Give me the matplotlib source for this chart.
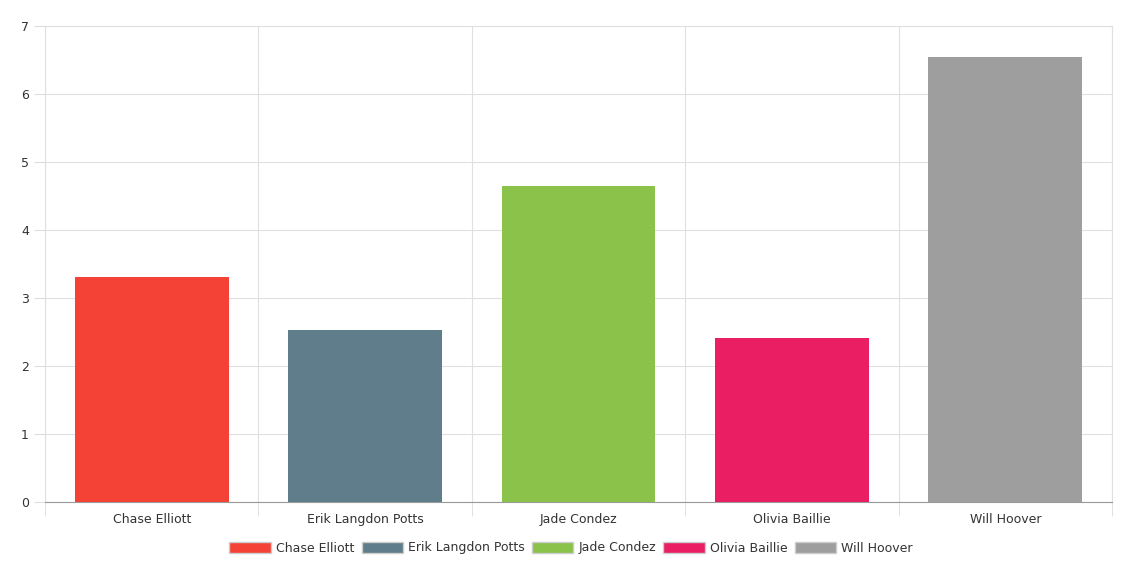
import matplotlib
matplotlib.use("Agg")
import matplotlib.pyplot as plt
from matplotlib.patches import Patch

categories = ["Chase Elliott", "Erik Langdon Potts", "Jade Condez", "Olivia Baillie", "Will Hoover"]
values = [3.31, 2.53, 4.65, 2.41, 6.54]
colors = ["#f44336", "#607d8b", "#8bc34a", "#e91e63", "#9e9e9e"]

fig = plt.figure(figsize=(11.42, 5.87), dpi=100)
ax = fig.add_axes([45/1142, 1-502/587, (1112-45)/1142, (502-26)/587])
x = list(range(len(categories)))
ax.bar(x, values, width=0.72, color=colors, zorder=3)
ax.set_xlim(-0.5, len(categories)-0.5)
ax.set_ylim(0, 7)
ax.set_yticks(range(8))
ax.set_xticks(x)
ax.set_xticklabels(categories, fontsize=9, color="#333333")
ax.tick_params(axis="y", labelsize=9, colors="#333333", length=8, color="#dddddd")
ax.tick_params(axis="x", length=0, pad=8)
ax.set_xticks([i-0.5 for i in range(len(categories)+1)], minor=True)
ax.tick_params(axis="x", which="minor", length=10, color="#dddddd")
ax.grid(True, axis="y", color="#e0e0e0", lw=0.8, zorder=0)
ax.grid(True, axis="x", which="minor", color="#e0e0e0", lw=0.8, zorder=0)
for s in ["top", "right", "left"]:
    ax.spines[s].set_color("#e0e0e0")
ax.spines["bottom"].set_color("#999999")
handles = [Patch(facecolor=c, edgecolor="#cccccc", label=l) for c, l in zip(colors, categories)]
fig.legend(handles=handles, loc="center", bbox_to_anchor=(0.5, 1-548/587), ncol=5, frameon=False,
           fontsize=9, handlelength=3.3, handleheight=1.0, columnspacing=0.6, handletextpad=0.4,
           labelcolor="#333333")
fig.savefig("out.png", dpi=100)
